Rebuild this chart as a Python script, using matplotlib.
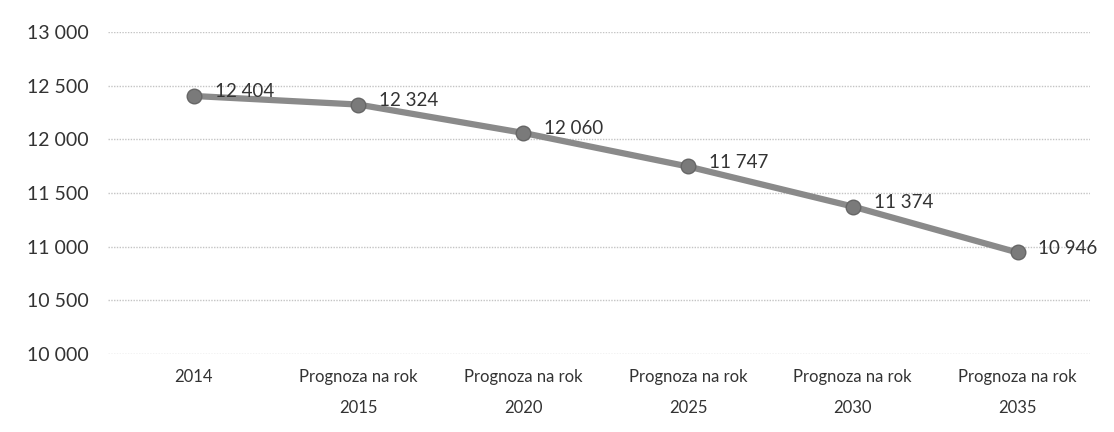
import matplotlib
matplotlib.use("Agg")
import matplotlib.pyplot as plt
from matplotlib.ticker import FuncFormatter

# values
categories = ["2014", "Prognoza na rok\n2015", "Prognoza na rok\n2020",
              "Prognoza na rok\n2025", "Prognoza na rok\n2030", "Prognoza na rok\n2035"]
values = [12404, 12324, 12060, 11747, 11374, 10946]
yticks = [10000, 10500, 11000, 11500, 12000, 12500, 13000]


def thousands(v, pos=None):
    return f"{int(v):,}".replace(",", " ")


plt.rcParams['font.family'] = ['Lato', 'DejaVu Sans']

fig = plt.figure(figsize=(11.14, 4.32), dpi=100)
ax = fig.add_axes([108/1114, 1 - 354/432, (1090-108)/1114, (354-32)/432])

x = list(range(len(values)))
ax.plot(x, values, color="#8a8a8a", lw=4.5, marker="o", ms=10.5,
        markerfacecolor="#7a7a7a", markeredgecolor="#666666", zorder=3)

for xi, v in zip(x, values):
    ax.annotate(thousands(v), (xi, v), xytext=(15, 3), textcoords="offset points",
                ha="left", va="center", fontsize=13.5, color="#333333")

ax.set_xlim(-0.52, 5.44)
ax.set_ylim(10000, 13000)
ax.set_yticks(yticks)
ax.yaxis.set_major_formatter(FuncFormatter(thousands))
ax.set_xticks(x)
ax.set_xticklabels(categories, linespacing=2.1)

ax.grid(axis="y", color="#c4c4c4", lw=1, ls=(0, (1, 1)))
ax.set_axisbelow(True)
for s in ax.spines.values():
    s.set_visible(False)
ax.tick_params(axis="both", length=0, colors="#333333")
ax.tick_params(axis="y", pad=14, labelsize=14)
ax.tick_params(axis="x", pad=11, labelsize=12)

fig.savefig("out.png", dpi=100)
